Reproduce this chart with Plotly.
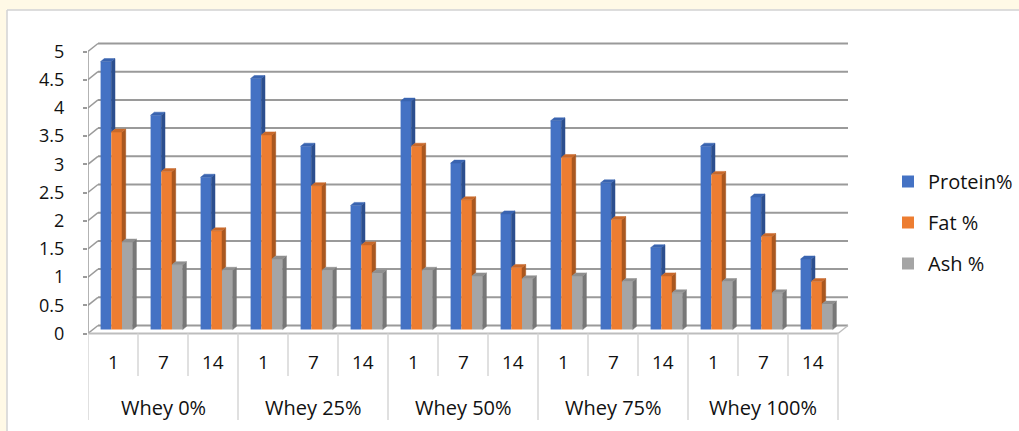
import plotly.graph_objects as go

# ---- data ----------------------------------------------------------------
groups = ["Whey 0%", "Whey 25%", "Whey 50%", "Whey 75%", "Whey 100%"]
days = ["1", "7", "14"]
protein = [4.75, 3.80, 2.70, 4.45, 3.25, 2.20, 4.05, 2.95, 2.05, 3.70, 2.60, 1.45, 3.25, 2.35, 1.25]
fat = [3.50, 2.80, 1.75, 3.45, 2.55, 1.50, 3.25, 2.30, 1.10, 3.05, 1.95, 0.95, 2.75, 1.65, 0.85]
ash = [1.55, 1.15, 1.05, 1.25, 1.05, 1.00, 1.05, 0.95, 0.90, 0.95, 0.85, 0.65, 0.85, 0.65, 0.45]
series_names = ["Protein%", "Fat %", "Ash %"]
y_ticks = [0, 0.5, 1, 1.5, 2, 2.5, 3, 3.5, 4, 4.5, 5]
y_tick_text = ["0", "0.5", "1", "1.5", "2", "2.5", "3", "3.5", "4", "4.5", "5"]

# ---- styling ---------------------------------------------------------------
front_colors = ["#4472C4", "#ED7D31", "#A5A5A5"]
side_colors = ["#2C4F8E", "#A9571F", "#787878"]
top_colors = ["#3A64B0", "#C9692A", "#8F8F8F"]
FONT = "Open Sans"
TEXT = "#111111"
GRID = "#9A9A9A"
LIGHT = "#D6D6D6"

W, H = 1019, 431
M_L, M_R, M_T, M_B = 88, 159, 38, 6
PX_X = 50.0          # pixels per category slot
PX_Y = 56.4          # pixels per value unit
plot_w = W - M_L - M_R
plot_h = H - M_T - M_B
ZERO_PX = 333.5      # vertical pixel of the front zero line
y_top = (ZERO_PX - M_T) / PX_Y
y_bot = (ZERO_PX - (H - M_B)) / PX_Y
x_max = plot_w / PX_X

# 3-D projection: depth of the chart box and of each column
DX, DY = 10 / PX_X, 8 / PX_Y           # back wall offset
BX, BY = 0.55 * DX, 0.5 * DY           # plane where the columns stand
BAR_W = 10.7 / PX_X
SD_X, SD_Y = 3.7 / PX_X, 3.0 / PX_Y    # column depth (side / top faces)

n_cat = len(protein)
values = [protein, fat, ash]


def y_of_px(p):
    return (ZERO_PX - p) / PX_Y


def xpaper(p):
    return (p - M_L) / plot_w


def ypaper(p):
    return (H - M_B - p) / plot_h


fig = go.Figure()

# ---- columns: front faces --------------------------------------------------
starts = [k + 0.5 + BX - 1.5 * BAR_W - SD_X / 2 for k in range(n_cat)]
for j, name in enumerate(series_names):
    fig.add_trace(go.Bar(
        x=[s + (j + 0.5) * BAR_W for s in starts],
        y=values[j], base=[BY] * n_cat, width=BAR_W,
        marker=dict(color=front_colors[j], line=dict(width=0)),
        name=name, legendgroup=name, hoverinfo="skip",
    ))

# ---- columns: side and top faces ------------------------------------------
for j in range(3):
    sx, sy, tx, ty = [], [], [], []
    for k in range(n_cat):
        v = values[j][k]
        xl = starts[k] + j * BAR_W
        xr = xl + BAR_W
        top = BY + v
        # right-hand side face; hidden behind the neighbouring column below its top
        low = BY + values[j + 1][k] if j < 2 else BY
        sx += [xr, xr + SD_X, xr + SD_X, xr, xr, None]
        sy += [low, low + SD_Y, top + SD_Y, top, low, None]
        # top face
        tx += [xl, xr, xr + SD_X, xl + SD_X, xl, None]
        ty += [top, top, top + SD_Y, top + SD_Y, top, None]
    fig.add_trace(go.Scatter(x=sx, y=sy, mode="lines", fill="toself",
                             fillcolor=side_colors[j],
                             line=dict(color=side_colors[j], width=0.5),
                             showlegend=False, hoverinfo="skip"))
    fig.add_trace(go.Scatter(x=tx, y=ty, mode="lines", fill="toself",
                             fillcolor=top_colors[j],
                             line=dict(color=top_colors[j], width=0.5),
                             showlegend=False, hoverinfo="skip"))

# ---- box: walls, gridlines, floor -----------------------------------------
shapes = []
x_back_end = n_cat + DX
for v in y_ticks:
    # gridline across the back wall and its continuation on the left wall
    shapes.append(dict(type="line", xref="x", yref="y", layer="below",
                       x0=DX, y0=v + DY, x1=x_back_end, y1=v + DY,
                       line=dict(color=GRID, width=2)))
    shapes.append(dict(type="line", xref="x", yref="y", layer="below",
                       x0=0, y0=v, x1=DX, y1=v + DY,
                       line=dict(color=GRID, width=1.5)))
# front vertical axis line
shapes.append(dict(type="line", xref="x", yref="y", layer="below",
                   x0=0, y0=0, x1=0, y1=y_ticks[-1],
                   line=dict(color=GRID, width=1.5)))
# floor front and right edges
shapes.append(dict(type="line", xref="x", yref="y", layer="below",
                   x0=0, y0=0, x1=n_cat, y1=0, line=dict(color="#BDBDBD", width=1.8)))
shapes.append(dict(type="line", xref="x", yref="y", layer="below",
                   x0=n_cat, y0=0, x1=n_cat + DX, y1=DY,
                   line=dict(color="#BDBDBD", width=1.5)))

# category axis dividers (two levels)
inner_low = y_of_px(376)
outer_low = y_of_px(420)
for k in range(n_cat + 1):
    bottom = outer_low if k % len(days) == 0 else inner_low
    shapes.append(dict(type="line", xref="x", yref="y", layer="below",
                       x0=k, y0=0, x1=k, y1=bottom,
                       line=dict(color=LIGHT, width=1.5)))

# outer frame: cream strips and a thin border
shapes.append(dict(type="rect", xref="paper", yref="paper", layer="below",
                   x0=xpaper(0), x1=xpaper(W), y0=ypaper(9.5), y1=ypaper(0),
                   fillcolor="#FFF9E6", line=dict(width=0)))
shapes.append(dict(type="rect", xref="paper", yref="paper", layer="below",
                   x0=xpaper(0), x1=xpaper(6.5), y0=ypaper(H), y1=ypaper(0),
                   fillcolor="#FFF9E6", line=dict(width=0)))
shapes.append(dict(type="line", xref="paper", yref="paper", layer="below",
                   x0=xpaper(7), x1=xpaper(W), y0=ypaper(10), y1=ypaper(10),
                   line=dict(color="#D2D2D2", width=1.5)))
shapes.append(dict(type="line", xref="paper", yref="paper", layer="below",
                   x0=xpaper(7), x1=xpaper(7), y0=ypaper(10), y1=ypaper(H),
                   line=dict(color="#D2D2D2", width=1.5)))

# ---- category labels -------------------------------------------------------
annotations = []
for k in range(n_cat):
    annotations.append(dict(x=k + 0.5, y=y_of_px(362), xref="x", yref="y",
                            text=days[k % len(days)], showarrow=False,
                            font=dict(family=FONT, size=19, color=TEXT)))
for g, label in enumerate(groups):
    annotations.append(dict(x=g * len(days) + len(days) / 2, y=y_of_px(407),
                            xref="x", yref="y", text=label, showarrow=False,
                            font=dict(family=FONT, size=20, color=TEXT)))

fig.update_layout(
    width=W, height=H,
    margin=dict(l=M_L, r=M_R, t=M_T, b=M_B, pad=0, autoexpand=False),
    paper_bgcolor="white", plot_bgcolor="rgba(0,0,0,0)",
    barmode="overlay",
    shapes=shapes, annotations=annotations,
    xaxis=dict(range=[0, x_max], visible=False, fixedrange=True),
    yaxis=dict(range=[y_bot, y_top], tickvals=y_ticks, ticktext=y_tick_text,
               ticks="outside", ticklen=4, tickwidth=1.5, tickcolor=GRID,
               ticklabelstandoff=15,
               showgrid=False, zeroline=False, showline=False,
               tickfont=dict(family=FONT, size=18, color=TEXT), fixedrange=True),
    legend=dict(x=xpaper(888), y=ypaper(162), xanchor="left", yanchor="top",
                traceorder="grouped", tracegroupgap=12,
                font=dict(family=FONT, size=20, color=TEXT),
                bgcolor="rgba(0,0,0,0)", borderwidth=0),
    font=dict(family=FONT, color=TEXT),
)

fig.write_html("out.html")
